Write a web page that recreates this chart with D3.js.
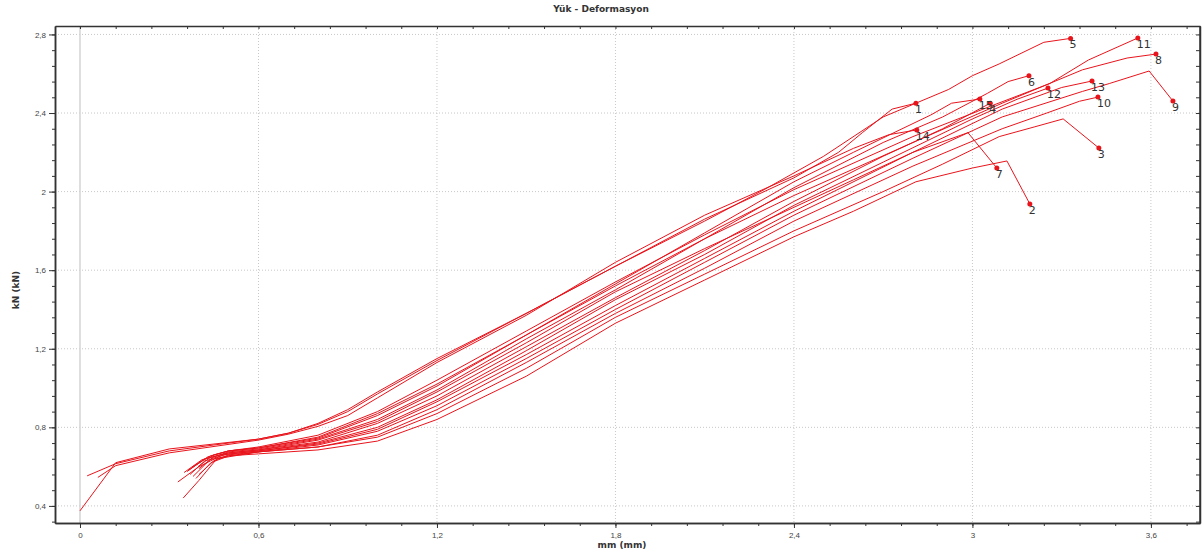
<!DOCTYPE html>
<html>
<head>
<meta charset="utf-8">
<script src="https://cdnjs.cloudflare.com/ajax/libs/d3/7.8.5/d3.min.js"></script>
<style>
  body { margin: 0; background: #fff; }
  svg { display: block; font-family: "DejaVu Sans", Verdana, sans-serif; }
  .grid line { stroke: #c8c8c8; stroke-dasharray: 1,2; }
</style>
</head>
<body>
<script>
var width = 1204,
    height = 551;

// axis ticks
var xTicks = [0, 0.6, 1.2, 1.8, 2.4, 3, 3.6];
var yTicks = [0.4, 0.8, 1.2, 1.6, 2, 2.4, 2.8];

// curve names (labels at the end point)
var names = ["1", "2", "3", "4", "5", "6", "7", "8", "9", "10", "11", "12", "13", "14", "15"];

// deformation (mm) / load (kN) per specimen
var c1x = [0, 0.12, 0.3, 0.6, 0.7, 0.8, 0.9, 1.0, 1.2, 1.45, 1.8, 2.1, 2.4, 2.55, 2.63, 2.73, 2.81];
var c1y = [0.375, 0.62, 0.69, 0.74, 0.77, 0.815, 0.88, 0.97, 1.14, 1.34, 1.62, 1.86, 2.07, 2.2, 2.3, 2.42, 2.45];
var c2x = [0.37, 0.42, 0.5, 0.6, 0.8, 1.0, 1.2, 1.5, 1.8, 2.1, 2.4, 2.6, 2.81, 3.0, 3.116, 3.193];
var c2y = [0.56, 0.63, 0.655, 0.665, 0.685, 0.73, 0.84, 1.06, 1.33, 1.55, 1.77, 1.9, 2.05, 2.12, 2.156, 1.937];
var c3x = [0.39, 0.44, 0.5, 0.6, 0.8, 1.0, 1.2, 1.5, 1.8, 2.1, 2.4, 2.7, 2.9, 3.09, 3.21, 3.305, 3.425];
var c3y = [0.54, 0.62, 0.655, 0.675, 0.70, 0.75, 0.87, 1.10, 1.36, 1.58, 1.80, 2.0, 2.14, 2.28, 2.33, 2.37, 2.222];
var c4x = [0.36, 0.42, 0.5, 0.6, 0.8, 1.0, 1.2, 1.5, 1.8, 2.1, 2.4, 2.7, 2.9, 3.06];
var c4y = [0.575, 0.64, 0.67, 0.685, 0.725, 0.82, 0.96, 1.21, 1.46, 1.70, 1.95, 2.18, 2.32, 2.45];
var c5x = [0.024, 0.12, 0.3, 0.45, 0.6, 0.7, 0.8, 0.9, 1.0, 1.2, 1.5, 1.8, 2.1, 2.3, 2.5, 2.7, 2.92, 3.0, 3.09, 3.24, 3.33];
var c5y = [0.553, 0.615, 0.68, 0.71, 0.74, 0.77, 0.82, 0.89, 0.98, 1.15, 1.38, 1.62, 1.85, 2.01, 2.18, 2.38, 2.52, 2.59, 2.65, 2.76, 2.78];
var c6x = [0.4, 0.45, 0.5, 0.6, 0.8, 1.0, 1.2, 1.5, 1.8, 2.1, 2.4, 2.7, 2.9, 3.05, 3.12, 3.19];
var c6y = [0.59, 0.65, 0.675, 0.69, 0.74, 0.84, 0.99, 1.25, 1.50, 1.76, 2.02, 2.25, 2.38, 2.50, 2.56, 2.59];
var c7x = [0.35, 0.41, 0.5, 0.6, 0.8, 1.0, 1.2, 1.5, 1.8, 2.1, 2.4, 2.6, 2.8, 2.985, 3.082];
var c7y = [0.57, 0.635, 0.67, 0.685, 0.735, 0.83, 0.98, 1.23, 1.49, 1.71, 1.92, 2.06, 2.2, 2.30, 2.12];
var c8x = [0.38, 0.44, 0.5, 0.6, 0.8, 1.0, 1.2, 1.5, 1.8, 2.1, 2.4, 2.8, 3.1, 3.37, 3.52, 3.617];
var c8y = [0.6, 0.655, 0.68, 0.695, 0.75, 0.87, 1.02, 1.27, 1.52, 1.76, 1.98, 2.25, 2.45, 2.62, 2.68, 2.70];
var c9x = [0.347, 0.4, 0.46, 0.6, 0.8, 1.0, 1.2, 1.5, 1.8, 2.1, 2.4, 2.8, 3.1, 3.37, 3.46, 3.594, 3.674];
var c9y = [0.44, 0.53, 0.64, 0.675, 0.71, 0.78, 0.91, 1.15, 1.40, 1.64, 1.88, 2.17, 2.38, 2.51, 2.55, 2.614, 2.461];
var c10x = [0.4, 0.45, 0.5, 0.6, 0.8, 1.0, 1.2, 1.5, 1.8, 2.1, 2.4, 2.8, 3.1, 3.25, 3.36, 3.422];
var c10y = [0.56, 0.63, 0.66, 0.675, 0.70, 0.76, 0.89, 1.13, 1.38, 1.61, 1.85, 2.13, 2.32, 2.40, 2.46, 2.481];
var c11x = [0.366, 0.43, 0.5, 0.6, 0.8, 1.0, 1.2, 1.5, 1.8, 2.1, 2.4, 2.8, 3.07, 3.26, 3.39, 3.556];
var c11y = [0.583, 0.65, 0.68, 0.70, 0.76, 0.88, 1.04, 1.29, 1.54, 1.78, 2.01, 2.28, 2.44, 2.55, 2.67, 2.782];
var c12x = [0.38, 0.44, 0.5, 0.6, 0.8, 1.0, 1.2, 1.5, 1.8, 2.1, 2.4, 2.7, 3.0, 3.15, 3.254];
var c12y = [0.55, 0.64, 0.665, 0.68, 0.72, 0.80, 0.94, 1.19, 1.45, 1.68, 1.93, 2.15, 2.37, 2.47, 2.527];
var c13x = [0.329, 0.4, 0.48, 0.6, 0.8, 1.0, 1.2, 1.5, 1.8, 2.1, 2.4, 2.8, 3.1, 3.3, 3.402];
var c13y = [0.522, 0.6, 0.66, 0.68, 0.715, 0.79, 0.93, 1.17, 1.42, 1.66, 1.90, 2.2, 2.42, 2.53, 2.563];
var c14x = [0.06, 0.12, 0.3, 0.6, 0.7, 0.8, 0.9, 1.0, 1.2, 1.5, 1.8, 2.1, 2.4, 2.6, 2.72, 2.813];
var c14y = [0.545, 0.605, 0.67, 0.735, 0.765, 0.805, 0.86, 0.95, 1.13, 1.37, 1.64, 1.88, 2.08, 2.22, 2.29, 2.314];
var c15x = [0.397, 0.45, 0.5, 0.6, 0.8, 1.0, 1.2, 1.5, 1.8, 2.1, 2.4, 2.6, 2.75, 2.86, 2.93, 3.025];
var c15y = [0.6, 0.66, 0.68, 0.695, 0.745, 0.86, 1.01, 1.27, 1.53, 1.79, 2.05, 2.2, 2.31, 2.39, 2.45, 2.471];

var xs = [c1x, c2x, c3x, c4x, c5x, c6x, c7x, c8x, c9x, c10x, c11x, c12x, c13x, c14x, c15x];
var ys = [c1y, c2y, c3y, c4y, c5y, c6y, c7y, c8y, c9y, c10y, c11y, c12y, c13y, c14y, c15y];

var margin = {top: 26, right: 4, bottom: 28, left: 55};
var w = width - margin.left - margin.right,
    h = height - margin.top - margin.bottom;

var x = d3.scaleLinear().domain([-0.084, 3.765]).range([0, w]);
var y = d3.scaleLinear().domain([0.313, 2.843]).range([h, 0]);

var fmt = function(d) { return String(+d.toFixed(1)).replace(".", ","); };

var svg = d3.select("body").append("svg")
    .attr("width", width)
    .attr("height", height);

//title
svg.append("text")
    .attr("x", 601)
    .attr("y", 12)
    .attr("text-anchor", "middle")
    .style("font-size", "9px")
    .style("font-weight", "bold")
    .style("fill", "#333")
    .text("Yük - Deformasyon");

var g = svg.append("g")
    .attr("transform", "translate(" + margin.left + "," + margin.top + ")");

//grid
var grid = g.append("g").attr("class", "grid");
grid.selectAll("line.gx")
    .data(xTicks.filter(function(d) { return d !== 0; }))
    .enter().append("line")
    .attr("class", "gx")
    .attr("x1", function(d) { return x(d); })
    .attr("x2", function(d) { return x(d); })
    .attr("y1", 0)
    .attr("y2", h);
grid.selectAll("line.gy")
    .data(yTicks)
    .enter().append("line")
    .attr("class", "gy")
    .attr("x1", 0)
    .attr("x2", w)
    .attr("y1", function(d) { return y(d); })
    .attr("y2", function(d) { return y(d); });

// zero line
g.append("line")
    .attr("x1", x(0)).attr("x2", x(0))
    .attr("y1", 0).attr("y2", h)
    .style("stroke", "#d4d4d4")
    .style("stroke-width", 1.5);

//axes
var xMinor = d3.range(0, 3.77, 0.12);
var yMinor = d3.range(0.32, 2.85, 0.08);

var xAxis = d3.axisBottom(x).tickValues(xTicks).tickFormat(fmt).tickSize(5).tickPadding(4);
var yAxis = d3.axisLeft(y).tickValues(yTicks).tickFormat(fmt).tickSize(6).tickPadding(3);

g.append("g")
    .attr("transform", "translate(0," + h + ")")
    .call(d3.axisBottom(x).tickValues(xMinor).tickFormat("").tickSize(3).tickSizeOuter(0));
g.append("g")
    .call(d3.axisLeft(y).tickValues(yMinor).tickFormat("").tickSize(3).tickSizeOuter(0));
g.append("g")
    .call(d3.axisBottom(x).tickValues(xMinor).tickFormat("").tickSize(3).tickSizeOuter(0));
g.append("g")
    .attr("transform", "translate(" + w + ",0)")
    .call(d3.axisLeft(y).tickValues(yMinor).tickFormat("").tickSize(4).tickSizeOuter(0));

g.append("g")
    .attr("transform", "translate(0," + h + ")")
    .call(xAxis.tickSizeOuter(0));
g.append("g")
    .call(yAxis.tickSizeOuter(0));

g.selectAll(".domain").style("stroke", "#333").style("stroke-width", 1.5);
g.selectAll(".tick line").style("stroke", "#333");
g.selectAll(".tick text").style("font-size", "8px").style("fill", "#444");

// right border
g.append("line")
    .attr("x1", w).attr("x2", w).attr("y1", 0).attr("y2", h)
    .style("stroke", "#333").style("stroke-width", 1.5);

//axis titles
svg.append("text")
    .attr("x", 622)
    .attr("y", 548)
    .attr("text-anchor", "middle")
    .style("font-size", "9px")
    .style("font-weight", "bold")
    .style("fill", "#333")
    .text("mm (mm)");
svg.append("text")
    .attr("transform", "translate(19,290) rotate(-90)")
    .attr("text-anchor", "middle")
    .style("font-size", "9px")
    .style("font-weight", "bold")
    .style("fill", "#333")
    .text("kN (kN)");

//curves
var line = d3.line()
    .x(function(d) { return x(d[0]); })
    .y(function(d) { return y(d[1]); });

var curves = names.map(function(n, i) {
    return { name: n, pts: d3.zip(xs[i], ys[i]) };
});

var plot = g.append("g");
plot.selectAll("path")
    .data(curves)
    .enter().append("path")
    .attr("d", function(d) { return line(d.pts); })
    .style("fill", "none")
    .style("stroke", "#e8141c")
    .style("stroke-width", 1);

plot.selectAll("circle")
    .data(curves)
    .enter().append("circle")
    .attr("cx", function(d) { return x(d.pts[d.pts.length - 1][0]); })
    .attr("cy", function(d) { return y(d.pts[d.pts.length - 1][1]); })
    .attr("r", 2.5)
    .style("fill", "#e8141c");

plot.selectAll("text")
    .data(curves)
    .enter().append("text")
    .attr("x", function(d) { return x(d.pts[d.pts.length - 1][0]) - 1; })
    .attr("y", function(d) { return y(d.pts[d.pts.length - 1][1]) + 10; })
    .style("font-size", "11px")
    .style("fill", "#333")
    .text(function(d) { return d.name; });
</script>
</body>
</html>
